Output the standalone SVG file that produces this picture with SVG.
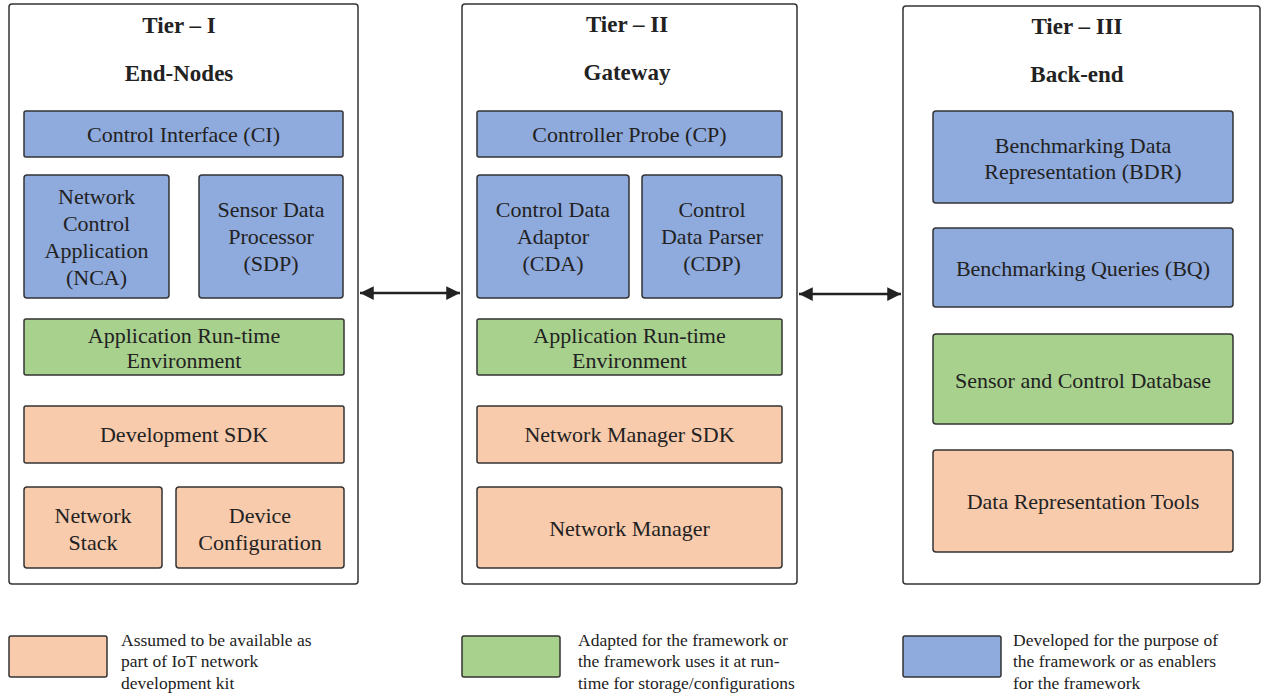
<svg xmlns="http://www.w3.org/2000/svg" width="1262" height="698" viewBox="0 0 1262 698">
<style>
text{font-family:"Liberation Serif","Times New Roman",serif;fill:#222}
.t{font-size:22px;text-anchor:middle}
.h{font-size:23px;font-weight:bold;text-anchor:middle}
.l{font-size:17.5px}
.tier{fill:#fff;stroke:#333;stroke-width:1.5}
.b{fill:#8FAADC;stroke:#333;stroke-width:1.5}
.g{fill:#A9D18E;stroke:#333;stroke-width:1.5}
.o{fill:#F8CBAD;stroke:#333;stroke-width:1.5}
.c{stroke:#222;stroke-width:2.5;fill:none;marker-start:url(#ah);marker-end:url(#ah)}
</style>
<defs>
<marker id="ah" viewBox="0 0 10 10" refX="10" refY="5" markerWidth="5.5" markerHeight="5.5" orient="auto-start-reverse" markerUnits="strokeWidth">
<path d="M0,0 L10,5 L0,10 z" fill="#222"/>
</marker>
</defs>
<rect width="1262" height="698" fill="#fff"/>

<g id="tier1">
<rect class="tier" x="9" y="4" width="349" height="580" rx="3"/>
<text class="h" x="179" y="33">Tier – I</text>
<text class="h" x="179" y="81">End-Nodes</text>
</g>
<g id="ci"><rect class="b" x="24" y="111" width="319" height="46" rx="2"/><text class="t" x="183.5" y="142">Control Interface (CI)</text></g>
<g id="nca"><rect class="b" x="24" y="175" width="145" height="123" rx="3"/><text class="t" x="96.5" y="204">Network</text><text class="t" x="96.5" y="231">Control</text><text class="t" x="96.5" y="258">Application</text><text class="t" x="96.5" y="285">(NCA)</text></g>
<g id="sdp"><rect class="b" x="199" y="175" width="144" height="123" rx="3"/><text class="t" x="271" y="217">Sensor Data</text><text class="t" x="271" y="244">Processor</text><text class="t" x="271" y="271">(SDP)</text></g>
<g id="are1"><rect class="g" x="24" y="319" width="320" height="56" rx="2"/><text class="t" x="184" y="343">Application Run-time</text><text class="t" x="184" y="368">Environment</text></g>
<g id="devsdk"><rect class="o" x="24" y="406" width="320" height="57" rx="2"/><text class="t" x="184" y="442">Development SDK</text></g>
<g id="netstack"><rect class="o" x="24" y="487" width="138" height="81" rx="3"/><text class="t" x="93" y="523">Network</text><text class="t" x="93" y="550">Stack</text></g>
<g id="devconf"><rect class="o" x="176" y="487" width="168" height="81" rx="3"/><text class="t" x="260" y="523">Device</text><text class="t" x="260" y="550">Configuration</text></g>

<g id="tier2">
<rect class="tier" x="462" y="4" width="335" height="580" rx="3"/>
<text class="h" x="627" y="32">Tier – II</text>
<text class="h" x="627" y="80">Gateway</text>
</g>
<g id="cp"><rect class="b" x="477" y="111" width="305" height="46" rx="2"/><text class="t" x="629.5" y="142">Controller Probe (CP)</text></g>
<g id="cda"><rect class="b" x="477" y="175" width="152" height="123" rx="3"/><text class="t" x="553" y="217">Control Data</text><text class="t" x="553" y="244">Adaptor</text><text class="t" x="553" y="271">(CDA)</text></g>
<g id="cdp"><rect class="b" x="642" y="175" width="140" height="123" rx="3"/><text class="t" x="712" y="217">Control</text><text class="t" x="712" y="244">Data Parser</text><text class="t" x="712" y="271">(CDP)</text></g>
<g id="are2"><rect class="g" x="477" y="319" width="305" height="56" rx="2"/><text class="t" x="629.5" y="343">Application Run-time</text><text class="t" x="629.5" y="368">Environment</text></g>
<g id="nmsdk"><rect class="o" x="477" y="406" width="305" height="57" rx="2"/><text class="t" x="629.5" y="442">Network Manager SDK</text></g>
<g id="nm"><rect class="o" x="477" y="487" width="305" height="81" rx="3"/><text class="t" x="629.5" y="536">Network Manager</text></g>

<g id="tier3">
<rect class="tier" x="903" y="6" width="357" height="578" rx="3"/>
<text class="h" x="1077" y="34">Tier – III</text>
<text class="h" x="1077" y="82">Back-end</text>
</g>
<g id="bdr"><rect class="b" x="933" y="111" width="300" height="92" rx="3"/><text class="t" x="1083" y="153">Benchmarking Data</text><text class="t" x="1083" y="179">Representation (BDR)</text></g>
<g id="bq"><rect class="b" x="933" y="228" width="300" height="79" rx="3"/><text class="t" x="1083" y="276">Benchmarking Queries (BQ)</text></g>
<g id="scd"><rect class="g" x="933" y="334" width="300" height="90" rx="3"/><text class="t" x="1083" y="388">Sensor and Control Database</text></g>
<g id="drt"><rect class="o" x="933" y="450" width="300" height="102" rx="3"/><text class="t" x="1083" y="509">Data Representation Tools</text></g>

<g id="connectors">
<line class="c" x1="360" y1="293" x2="460" y2="293"/>
<line class="c" x1="799" y1="294" x2="901" y2="294"/>
</g>

<g id="legend-orange"><rect class="o" x="9" y="636" width="98" height="41" rx="2"/>
<text class="l" x="121" y="646">Assumed to be available as</text><text class="l" x="121" y="667">part of IoT network</text><text class="l" x="121" y="689">development kit</text></g>
<g id="legend-green"><rect class="g" x="462" y="636" width="98" height="41" rx="2"/>
<text class="l" x="578" y="646">Adapted for the framework or</text><text class="l" x="578" y="667">the framework uses it at run-</text><text class="l" x="578" y="689">time for storage/configurations</text></g>
<g id="legend-blue"><rect class="b" x="903" y="636" width="98" height="41" rx="2"/>
<text class="l" x="1013" y="646">Developed for the purpose of</text><text class="l" x="1013" y="667">the framework or as enablers</text><text class="l" x="1013" y="689">for the framework</text></g>
</svg>
